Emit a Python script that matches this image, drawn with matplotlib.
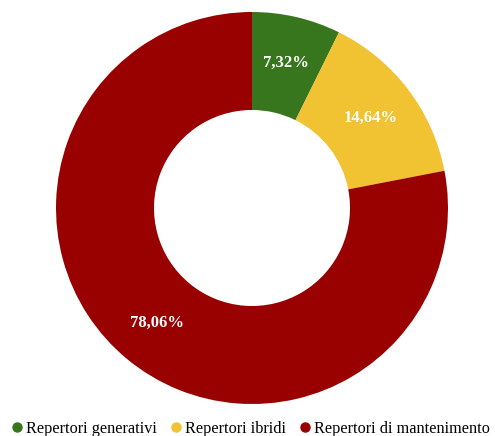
import matplotlib
matplotlib.use("Agg")
import matplotlib.pyplot as plt
from matplotlib.lines import Line2D
import numpy as np

categories = ["Repertori generativi", "Repertori ibridi", "Repertori di mantenimento"]
shares = [7.32, 14.64, 78.06]
colors = ["#38761d", "#f1c232", "#990000"]

W, H = 495, 436
fig = plt.figure(figsize=(W / 100, H / 100), dpi=100)
plt.rcParams["font.family"] = ["Liberation Serif", "DejaVu Serif"]

cx, cy, r = 252, 208, 196
ax = fig.add_axes([(cx - r) / W, (H - cy - r) / H, 2 * r / W, 2 * r / H])

wedges, _ = ax.pie(shares, colors=colors, startangle=90, counterclock=False,
                   radius=1.0, wedgeprops=dict(width=0.5, linewidth=0))

for w, v in zip(wedges, shares):
    ang = np.deg2rad((w.theta1 + w.theta2) / 2)
    rr = 0.76
    ax.text(rr * np.cos(ang), rr * np.sin(ang), f"{v:.2f}%".replace(".", ","),
            ha="center", va="center", color="white", fontsize=12,
            fontweight="bold")

ax.set_xlim(-1, 1)
ax.set_ylim(-1, 1)
ax.set_aspect("equal")
ax.axis("off")

handles = [Line2D([], [], marker="o", linestyle="none", markersize=6.5,
                  markerfacecolor=c, markeredgecolor=c) for c in colors]
fig.legend(handles, categories, loc="center", bbox_to_anchor=(251 / W, 1 - 429 / H),
           ncol=3, frameon=False, fontsize=11.7, handletextpad=0.25,
           columnspacing=0.9, handlelength=0.6, borderaxespad=0, borderpad=0)

fig.savefig("out.png", dpi=100)
